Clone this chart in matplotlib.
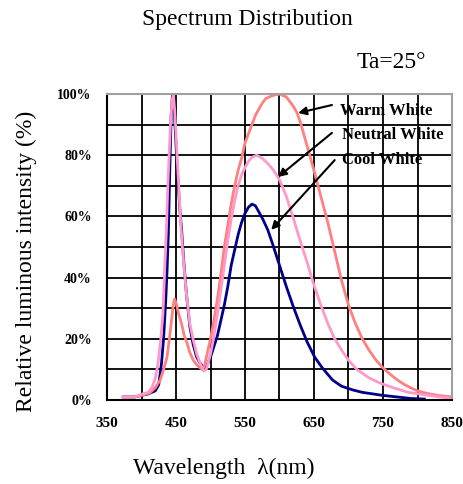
import matplotlib
matplotlib.use('Agg')
import matplotlib.pyplot as plt
from matplotlib import font_manager

# wavelength (nm) / relative intensity (%)
wl_cool = [375, 390, 400, 410, 420, 425, 429, 432, 435, 437, 439, 441, 443, 445, 447,
           449, 451, 453, 456, 458, 461, 465, 470, 475, 480, 485, 490, 495, 500, 505,
           510, 515, 520, 525, 530, 535, 540, 545, 550, 555, 560, 565, 570, 576, 583,
           590, 600, 610, 620, 630, 640, 651, 662, 677, 690, 706, 720, 735, 750, 770,
           790, 810]
cool = [1, 1, 1.5, 2, 3, 5, 12, 20, 32, 42, 55, 75, 93, 100, 96,
        88, 79, 71, 61, 56, 46, 35, 24, 18, 14, 12, 10.5, 11.5, 14, 17.5,
        21, 26, 31, 37, 44, 49, 54, 58, 61, 63, 64, 63.5, 61.5, 59, 55.6,
        51, 44, 37, 30.5, 24.5, 19, 14, 10.5, 6.5, 4.5, 3.3, 2.5, 2, 1.5, 1,
        0.5, 0.3]

wl_neutral = [373, 390, 402, 410, 415, 420, 424, 428, 431, 434, 436, 438, 440, 442, 444,
              446, 448, 450, 452, 454, 457, 461, 465, 470, 475, 480, 485, 490, 494, 500,
              505, 510, 515, 520, 525, 530, 535, 540, 545, 550, 555, 560, 567, 575, 582,
              590, 600, 610, 620, 630, 640, 650, 660, 670, 680, 690, 700, 712, 730, 746,
              765, 785, 810, 832, 850]
neutral = [1, 1, 2, 2.5, 4, 7, 12, 20, 28, 45, 55, 69, 80, 90, 97,
           100, 95, 87, 78, 70, 57, 45, 35, 25, 19.6, 15, 12, 9.5, 10, 15,
           21, 28, 36, 44, 52, 59, 65, 70, 73.5, 76, 78, 79.3, 80, 79, 77.5,
           75.5, 72, 66.5, 59.5, 52, 45, 37.5, 31, 25, 20, 16.3, 13, 10, 7.2, 5.5,
           4, 2.6, 1.7, 1, 0.5]

wl_warm = [373, 390, 400, 412, 420, 427, 432, 437, 441, 444, 446, 448, 451, 454, 458,
           462, 466, 470, 475, 480, 485, 488, 491, 495, 500, 505, 510, 515, 520, 525,
           530, 535, 540, 545, 550, 555, 560, 565, 570, 575, 580, 590, 600, 610, 620,
           625, 630, 640, 650, 660, 670, 680, 690, 700, 710, 720, 730, 740, 750, 760,
           770, 780, 790, 800, 813, 830, 850]
warm = [1, 1, 1.5, 2.3, 4, 6.5, 10, 14, 21, 27, 31, 33, 31, 28, 25,
        21, 18.6, 15.5, 13, 11.5, 10.5, 10, 11, 15, 20, 26, 33, 41, 50, 57,
        64, 70, 75, 79, 84, 87, 90, 93, 95, 97, 98.5, 99.5, 100, 99, 96,
        94, 91, 83, 75, 66.5, 58, 48.5, 39, 31, 25, 20, 16.2, 13, 10.5, 8.5,
        6.7, 5.2, 4, 3, 2.2, 1.5, 1]

x_ticks = [350, 450, 550, 650, 750, 850]
y_ticks = [0, 20, 40, 60, 80, 100]

names = {f.name for f in font_manager.fontManager.ttflist}
tick_font = 'Liberation Sans Narrow' if 'Liberation Sans Narrow' in names else 'Liberation Serif'
serif = 'Liberation Serif'

fig = plt.figure(figsize=(4.64, 4.84), dpi=100)
ax = fig.add_axes([107/464, 1-400/484, 345/464, 306/484])

ax.plot(wl_cool, cool, color='#000088', lw=2)
ax.plot(wl_warm, warm, color='#ff8080', lw=2)
ax.plot(wl_neutral, neutral, color='#ff99cc', lw=2)

ax.set_xlim(350, 850)
ax.set_ylim(0, 100)
ax.set_xticks(x_ticks)
ax.set_xticks(range(350, 851, 50), minor=True)
ax.set_yticks(y_ticks)
ax.set_yticks(range(0, 101, 10), minor=True)
ax.set_xticklabels([str(v) for v in x_ticks], family=tick_font, weight='bold', fontsize=11)
ax.set_yticklabels(['%d%%' % v for v in y_ticks], family=tick_font, weight='bold', fontsize=10)
ax.tick_params(which='both', length=0)
ax.tick_params(axis='x', pad=12)
ax.tick_params(axis='y', pad=11)
ax.grid(which='both', color='black', lw=1.3)
ax.set_axisbelow(True)
for s in ['left', 'bottom']:
    ax.spines[s].set_color('black')
    ax.spines[s].set_linewidth(1.5)
for s in ['top', 'right']:
    ax.spines[s].set_color('#a0a0a0')
    ax.spines[s].set_linewidth(1.5)

arrow = dict(arrowstyle='-|>', color='black', lw=1.5, mutation_scale=12, shrinkA=0, shrinkB=0)
ax.annotate('', xy=(627, 93.8), xytext=(676, 96.4), arrowprops=arrow)
ax.annotate('', xy=(598, 72.9), xytext=(676, 87.3), arrowprops=arrow)
ax.annotate('', xy=(588, 55.6), xytext=(680, 78.4), arrowprops=arrow)
ax.text(688, 94.3, 'Warm White', family=serif, weight='bold', fontsize=12, va='center')
ax.text(691, 86.6, 'Neutral White', family=serif, weight='bold', fontsize=12, va='center')
ax.text(691, 78.4, 'Cool White', family=serif, weight='bold', fontsize=12, va='center')

fig.text(142/464, 1-19/484, 'Spectrum Distribution', family=serif, fontsize=17, ha='left', va='center')
fig.text(426/464, 1-62/484, 'Ta=25°', family=serif, fontsize=17, ha='right', va='center')
fig.text(133/464, 1-468/484, 'Wavelength  λ(nm)', family=serif, fontsize=17, ha='left', va='center')
fig.text(26/464, 1-261/484, 'Relative luminous intensity (%)', family=serif, fontsize=17,
         rotation=90, ha='center', va='center')

fig.savefig('out.png', dpi=100)
